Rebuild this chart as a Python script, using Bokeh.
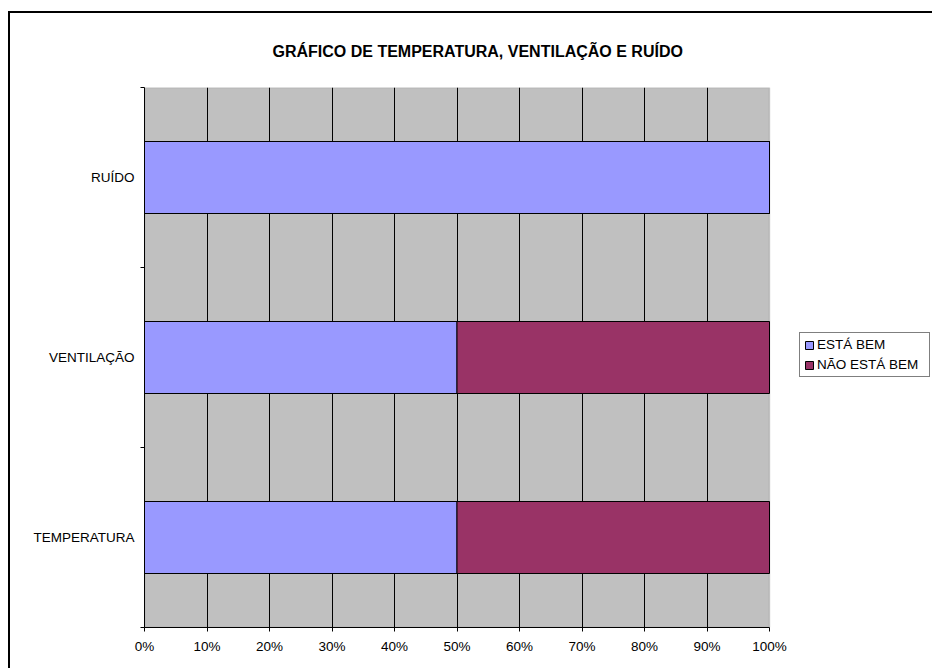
from bokeh.plotting import figure
from bokeh.models import ColumnDataSource, FixedTicker, Legend, LegendItem, Range1d, BoxAnnotation
from bokeh.embed import file_html
from bokeh.resources import INLINE

categories = ["TEMPERATURA", "VENTILAÇÃO", "RUÍDO"]
series_names = ["ESTÁ BEM", "NÃO ESTÁ BEM"]
esta_bem = [50, 50, 100]
nao_esta_bem = [50, 50, 0]
series_colors = ["#9999FF", "#993366"]
x_ticks = [0, 10, 20, 30, 40, 50, 60, 70, 80, 90, 100]
x_tick_labels = ["0%", "10%", "20%", "30%", "40%", "50%", "60%", "70%", "80%", "90%", "100%"]
title_text = "GRÁFICO DE TEMPERATURA, VENTILAÇÃO E RUÍDO"

FONT = "Liberation Sans"
X_MIN, X_MAX = 0, 100
PLOT_W = 625                 # pixel width of the 0-100% plot area
LEGEND_AREA = 932 - 769      # extra room on the right for the legend

ypos = [i + 0.5 for i in range(len(categories))]
src = ColumnDataSource(dict(y=ypos, esta=esta_bem, nao=nao_esta_bem))

frame_w = PLOT_W + LEGEND_AREA
x_end = X_MAX * frame_w / PLOT_W

p = figure(frame_width=frame_w, frame_height=540, output_backend="svg", toolbar_location=None,
           x_range=Range1d(X_MIN, x_end), y_range=Range1d(0, len(categories)),
           min_border_left=134, min_border_right=0,
           min_border_top=74, min_border_bottom=41,
           background_fill_color="white", border_fill_color="white")
p.styles = {"border-left": "2px solid black", "border-top": "2px solid black"}
p.margin = (11, 0, 0, 8)
p.outline_line_color = None

p.title.text = title_text
p.title.text_font = FONT
p.title.text_font_size = "16px"
p.title.text_font_style = "bold"
p.title.text_color = "black"
p.title.align = "left"
p.title.offset = 128
p.title.standoff = 55

# grey plot area (0-100%)
area = BoxAnnotation(left=X_MIN, right=X_MAX, fill_color="#C0C0C0", fill_alpha=1,
                     line_color="#808080", line_width=1.5, level="image")
p.add_layout(area)

rs = p.hbar_stack(["esta", "nao"], y="y", height=0.4, source=src,
                  color=series_colors, line_color="black", line_width=1)

# x axis
p.xaxis.bounds = (X_MIN, X_MAX)
p.xaxis.ticker = FixedTicker(ticks=x_ticks)
p.xaxis.major_label_overrides = {t: l for t, l in zip(x_ticks, x_tick_labels)}
p.xaxis.major_tick_out = 4
p.xaxis.major_tick_in = 0
p.xaxis.minor_tick_out = 0
p.xaxis.minor_tick_in = 0
p.xaxis.axis_line_color = "black"
p.xaxis.major_tick_line_color = "black"
p.xaxis.major_label_text_font = FONT
p.xaxis.major_label_text_font_size = "13.5px"
p.xaxis.major_label_text_color = "black"
p.xaxis.major_label_standoff = 7

# y axis
p.yaxis.ticker = FixedTicker(ticks=ypos, minor_ticks=list(range(len(categories) + 1)))
p.yaxis.major_label_overrides = {y: c for y, c in zip(ypos, categories)}
p.yaxis.major_tick_out = 0
p.yaxis.major_tick_in = 0
p.yaxis.minor_tick_out = 4
p.yaxis.minor_tick_in = 0
p.yaxis.minor_tick_line_color = "black"
p.yaxis.axis_line_color = "black"
p.yaxis.major_label_text_font = FONT
p.yaxis.major_label_text_font_size = "13.5px"
p.yaxis.major_label_text_color = "black"
p.yaxis.major_label_standoff = 6

p.xgrid.ticker = FixedTicker(ticks=x_ticks[1:-1])
p.xgrid.grid_line_color = "black"
p.xgrid.grid_line_width = 1
p.xgrid.level = "underlay"
p.ygrid.grid_line_color = None

legend = Legend(items=[LegendItem(label=n, renderers=[r]) for n, r in zip(series_names, rs)],
                location=(PLOT_W + 30, 250), orientation="vertical",
                label_text_font=FONT, label_text_font_size="13.5px", label_text_color="black",
                glyph_width=10, glyph_height=10, label_standoff=3, label_height=15,
                label_width=108, spacing=5, padding=4, margin=0,
                border_line_color="black", border_line_width=1,
                background_fill_color="white", background_fill_alpha=1)
p.add_layout(legend, "center")

open("out.html", "w").write(file_html(p, INLINE))
